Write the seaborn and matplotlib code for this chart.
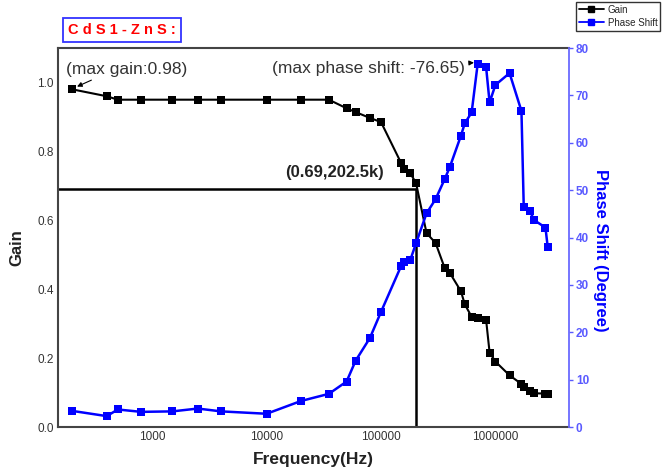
import numpy as np
import pandas as pd
import matplotlib
matplotlib.use("Agg")
import matplotlib.pyplot as plt
from matplotlib.lines import Line2D
import seaborn as sns

# Frequency sweep (Hz) shared by both measurements
frequency = [200, 400, 500, 800, 1500, 2500, 4000, 10000, 20000, 35000,
             50000, 60000, 80000, 100000, 150000, 160000, 180000, 202500,
             250000, 300000, 360000, 400000, 500000, 540000, 620000, 700000,
             830000, 890000, 1000000, 1330000, 1690000, 1770000, 2000000,
             2170000, 2740000, 2870000]

gain = [0.98, 0.96, 0.95, 0.95, 0.95, 0.95, 0.95, 0.95, 0.95, 0.95,
        0.925, 0.914, 0.897, 0.885, 0.766, 0.75, 0.737, 0.708,
        0.563, 0.534, 0.462, 0.447, 0.394, 0.356, 0.32, 0.317,
        0.31, 0.216, 0.19, 0.15, 0.125, 0.115, 0.105,
        0.098, 0.097, 0.097]

phase = [3.4, 2.3, 3.7, 3.2, 3.3, 3.9, 3.3, 2.8, 5.5, 7.0,
         9.6, 14.0, 18.8, 24.3, 34.0, 34.8, 35.2, 38.8,
         45.1, 48.1, 52.3, 54.9, 61.5, 64.1, 66.4, 76.65,
         75.9, 68.5, 72.2, 74.7, 66.7, 46.4, 45.7,
         43.7, 42.1, 37.9]

cutoff_gain = 0.69
cutoff_freq = 202500
max_gain = 0.98
max_phase = 76.65

gain_ticks = [0.0, 0.2, 0.4, 0.6, 0.8, 1.0]
phase_ticks = [0, 10, 20, 30, 40, 50, 60, 70, 80]
freq_ticks = [1000, 10000, 100000, 1000000]

df = pd.DataFrame({"Frequency": frequency, "Gain": gain, "Phase": phase})

sns.set_theme(style="white")
plt.rcParams["font.family"] = ["Liberation Sans", "DejaVu Sans"]

BLUE = "#0000ff"
fig = plt.figure(figsize=(6.63, 4.72), dpi=100)
ax = fig.add_axes([0.0875, 0.0953, 0.7707, 0.8030])
ax2 = ax.twinx()

sns.lineplot(data=df, x="Frequency", y="Gain", ax=ax, color="black",
             marker="s", markersize=6, markeredgewidth=0, linewidth=1.5,
             zorder=3)
sns.lineplot(data=df, x="Frequency", y="Phase", ax=ax2, color=BLUE,
             marker="s", markersize=6, markeredgewidth=0, linewidth=1.8,
             zorder=3)

ax.set_xscale("log")
ax.set_xlim(150, 4.4e6)
ax.set_ylim(0, 1.1)
ax2.set_ylim(0, 80)

ax.set_xticks(freq_ticks)
ax.set_xticklabels([str(t) for t in freq_ticks], fontsize=8.5, color="#333333")
ax.xaxis.set_minor_locator(matplotlib.ticker.NullLocator())
ax.set_yticks(gain_ticks)
ax.set_yticklabels([f"{t:.1f}" for t in gain_ticks], fontsize=8.5, color="#333333")
ax2.set_yticks(phase_ticks)
ax2.set_yticklabels([str(t) for t in phase_ticks], fontsize=8.5, color="#5a5aff",
                    fontweight="bold")

ax.tick_params(axis="both", length=0, pad=3)
ax2.tick_params(axis="y", length=3, width=1, color="#5a5aff", direction="out", pad=2)

for name, sp in ax.spines.items():
    sp.set_color("#444444")
    sp.set_linewidth(1.5)
for name, sp in ax2.spines.items():
    sp.set_visible(False)
ax2.spines["right"].set_visible(True)
ax2.spines["right"].set_color("#6a6aff")
ax2.spines["right"].set_linewidth(1.3)
ax.spines["right"].set_visible(False)

ax.set_xlabel("Frequency(Hz)", fontsize=12.5, fontweight="bold", color="#222222",
              va="center")
ax.xaxis.set_label_coords(0.5, -0.087)
ax.set_ylabel("Gain", fontsize=12, fontweight="bold", color="#222222",
              va="center")
ax.yaxis.set_label_coords(-0.08, 0.472)
ax2.set_ylabel("Phase Shift (Degree)", fontsize=12, fontweight="bold",
               color=BLUE, rotation=270, va="center")
ax2.yaxis.set_label_coords(1.062, 0.467)

# -3 dB cutoff guide lines
ax.plot([150, cutoff_freq], [cutoff_gain, cutoff_gain], color="black",
        linewidth=1.8, zorder=2)
ax.plot([cutoff_freq, cutoff_freq], [0, cutoff_gain], color="black",
        linewidth=1.8, zorder=2)
ax.text(107000, 0.718, f"({cutoff_gain},{cutoff_freq/1000:g}k)",
        ha="right", va="bottom", fontsize=12, fontweight="bold",
        color="#222222")

# Maximum annotations
ax.annotate(f"(max gain:{max_gain})", xy=(frequency[0] * 1.1, max_gain + 0.008),
            xytext=(176, 1.038), textcoords="data", fontsize=12.5,
            color="#333333", va="center", ha="left",
            arrowprops=dict(arrowstyle="-|>", color="black", lw=0.8,
                            shrinkA=0, shrinkB=0, mutation_scale=7,
                            relpos=(0.27, 0.0)),
            zorder=5)
ax2.annotate(f"(max phase shift: -{max_phase})",
             xy=(650000, 76.9), xytext=(545000, 75.6), textcoords="data",
             fontsize=12.5, color="#333333", va="center", ha="right",
             arrowprops=dict(arrowstyle="-|>", color="black", lw=0.8,
                             shrinkA=2, shrinkB=0, mutation_scale=7),
             zorder=5)

# Sample title box
fig.text(0.103, 0.936, "C d S 1 - Z n S :", fontsize=10.5, fontweight="bold",
         color="#ff0000", ha="left", va="center",
         bbox=dict(boxstyle="square,pad=0.35", facecolor="white",
                   edgecolor="#3333ff", linewidth=1.3))

handles = [
    Line2D([0], [0], color="black", marker="s", markersize=4.5, linewidth=1.3),
    Line2D([0], [0], color=BLUE, marker="s", markersize=4.5, linewidth=1.3),
]
leg = fig.legend(handles, ["Gain", "Phase Shift"], loc="upper right",
                 bbox_to_anchor=(0.996, 0.996), fontsize=7, frameon=True,
                 fancybox=False, edgecolor="black", handlelength=2.6,
                 borderpad=0.3, labelspacing=0.3, handletextpad=0.4,
                 borderaxespad=0)
leg.get_frame().set_linewidth(1.0)

fig.savefig("out.png", dpi=100)
